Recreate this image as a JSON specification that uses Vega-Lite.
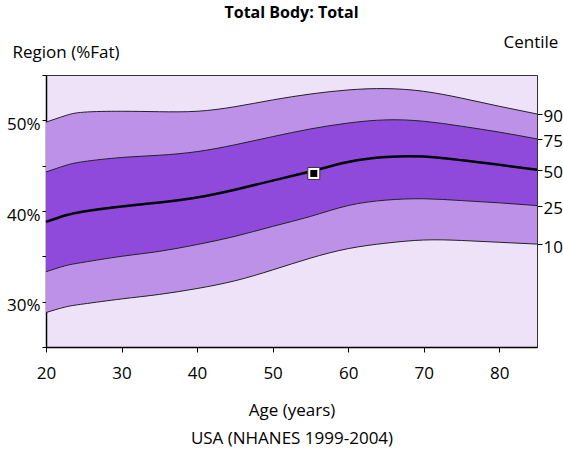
{
  "$schema": "https://vega.github.io/schema/vega-lite/v6.json",
  "autosize": {"type": "none"},
  "width": 491,
  "height": 272,
  "padding": {"left": 46, "top": 75, "right": 26, "bottom": 107},
  "background": "white",
  "title": {"text": "Total Body: Total", "font": "Open Sans", "fontSize": 16, "fontWeight": "bold", "color": "#000", "anchor": "middle", "offset": 12},
  "config": {
    "view": {"fill": "#EEE2F9", "stroke": "#333", "strokeWidth": 1},
    "axis": {"labelFont": "Open Sans", "titleFont": "Open Sans", "labelFontSize": 17, "titleFontSize": 17, "labelColor": "#000", "titleColor": "#000", "titleFontWeight": "normal", "domainColor": "#000", "tickColor": "#000", "grid": false}
  },
  "datasets": {
    "centiles": [
      {"age": 20, "p10": 28.8, "p25": 33.3, "p50": 38.8, "p75": 44.3, "p90": 49.8},
      {"age": 22.5, "p10": 29.4, "p25": 33.95, "p50": 39.5, "p75": 45.0, "p90": 50.5},
      {"age": 25, "p10": 29.75, "p25": 34.35, "p50": 39.95, "p75": 45.45, "p90": 50.9},
      {"age": 30, "p10": 30.3, "p25": 35.0, "p50": 40.5, "p75": 45.9, "p90": 51.0},
      {"age": 35, "p10": 30.8, "p25": 35.55, "p50": 40.95, "p75": 46.15, "p90": 50.95},
      {"age": 40, "p10": 31.45, "p25": 36.3, "p50": 41.5, "p75": 46.55, "p90": 51.0},
      {"age": 45, "p10": 32.3, "p25": 37.2, "p50": 42.35, "p75": 47.3, "p90": 51.5},
      {"age": 50, "p10": 33.5, "p25": 38.3, "p50": 43.35, "p75": 48.2, "p90": 52.25},
      {"age": 55, "p10": 34.8, "p25": 39.4, "p50": 44.35, "p75": 49.05, "p90": 52.9},
      {"age": 60, "p10": 35.85, "p25": 40.6, "p50": 45.4, "p75": 49.7, "p90": 53.35},
      {"age": 65, "p10": 36.45, "p25": 41.2, "p50": 45.95, "p75": 50.05, "p90": 53.5},
      {"age": 70, "p10": 36.8, "p25": 41.35, "p50": 46.0, "p75": 49.9, "p90": 53.2},
      {"age": 75, "p10": 36.75, "p25": 41.15, "p50": 45.6, "p75": 49.35, "p90": 52.45},
      {"age": 80, "p10": 36.55, "p25": 40.9, "p50": 45.1, "p75": 48.7, "p90": 51.55},
      {"age": 85, "p10": 36.35, "p25": 40.6, "p50": 44.55, "p75": 47.95, "p90": 50.7}
    ],
    "patient": [{"age": 55.45, "fat": 44.14}]
  },
  "resolve": {"axis": {"y": "independent"}},
  "layer": [
    {
      "data": {"name": "centiles"},
      "mark": {"type": "area", "color": "#BE91E8", "interpolate": "natural"},
      "encoding": {
        "x": {"field": "age", "type": "quantitative", "scale": {"domain": [20, 85], "nice": false, "zero": false},
          "axis": {"title": ["Age (years)", "USA (NHANES 1999-2004)"], "titleLineHeight": 28, "titlePadding": 21, "values": [20, 25, 30, 35, 40, 45, 50, 55, 60, 65, 70, 75, 80, 85], "labelExpr": "datum.value % 10 == 0 ? datum.value : ''", "labelFlush": false, "tickSize": 5, "labelPadding": 13, "domainWidth": 1.5}},
        "y": {"field": "p10", "type": "quantitative", "scale": {"domain": [25, 55], "nice": false, "zero": false},
          "axis": {"orient": "left", "title": "Region (%Fat)", "titleAngle": 0, "titleAlign": "left", "titleBaseline": "middle", "titleX": -34, "titleY": -23,
            "values": [25, 30, 35, 40, 45, 50, 55], "labelExpr": "datum.value % 10 == 0 ? datum.value + '%' : ''", "labelFlush": false, "tickSize": 4, "labelPadding": 2, "labelOffset": 4, "domainWidth": 1.5}},
        "y2": {"field": "p90"}
      }
    },
    {
      "data": {"name": "centiles"},
      "mark": {"type": "area", "color": "#8F4ADB", "interpolate": "natural"},
      "encoding": {
        "x": {"field": "age", "type": "quantitative"},
        "y": {"field": "p25", "type": "quantitative",
          "axis": {"orient": "right", "title": "Centile", "titleAngle": 0, "titleAlign": "left", "titleBaseline": "middle", "titleX": -34, "titleY": -33,
            "values": [50.7, 47.95, 44.55, 40.6, 36.35], "labelExpr": "datum.value > 50 ? '90' : datum.value > 47 ? '75' : datum.value > 43 ? '50' : datum.value > 39 ? '25' : '10'", "labelFlush": false, "tickSize": 5, "labelPadding": 1, "labelOffset": 3, "domainColor": "#333"}},
        "y2": {"field": "p75"}
      }
    },
    {
      "data": {"name": "centiles"},
      "transform": [{"fold": ["p10", "p25", "p75", "p90"], "as": ["centile", "fat"]}],
      "mark": {"type": "line", "color": "#222", "strokeWidth": 1, "interpolate": "natural"},
      "encoding": {
        "x": {"field": "age", "type": "quantitative"},
        "y": {"field": "fat", "type": "quantitative", "axis": null},
        "detail": {"field": "centile"}
      }
    },
    {
      "data": {"name": "centiles"},
      "mark": {"type": "line", "color": "#000", "strokeWidth": 2.5, "interpolate": "natural"},
      "encoding": {
        "x": {"field": "age", "type": "quantitative"},
        "y": {"field": "p50", "type": "quantitative", "axis": null}
      }
    },
    {
      "data": {"name": "patient"},
      "mark": {"type": "square", "filled": true, "fill": "#FFFFFF", "stroke": "#333", "strokeWidth": 1, "size": 144, "opacity": 1},
      "encoding": {
        "x": {"field": "age", "type": "quantitative"},
        "y": {"field": "fat", "type": "quantitative", "axis": null}
      }
    },
    {
      "data": {"name": "patient"},
      "mark": {"type": "square", "filled": true, "color": "#000", "size": 49, "opacity": 1},
      "encoding": {
        "x": {"field": "age", "type": "quantitative"},
        "y": {"field": "fat", "type": "quantitative", "axis": null}
      }
    }
  ]
}
